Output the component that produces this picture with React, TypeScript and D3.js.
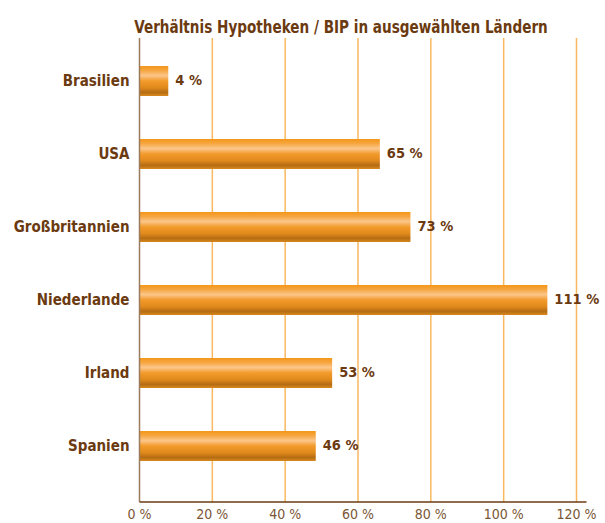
import React from "react";
import * as d3 from "d3";

// bar lengths as drawn in the picture, labels as printed
const countries = ["Brasilien", "USA", "Großbritannien", "Niederlande", "Irland", "Spanien"];
const barValues = [7.9, 66, 74.4, 112, 52.9, 48.4];
const valueLabels = ["4 %", "65 %", "73 %", "111 %", "53 %", "46 %"];
const ticks = [0, 20, 40, 60, 80, 100, 120];

const title = "Verhältnis Hypotheken / BIP in ausgewählten Ländern";
const font = "'Liberation Sans Narrow', 'DejaVu Sans Condensed', sans-serif";
const brown = "#6b3a10";

const W = 605;
const H = 523;

const App = () => {
  const x = d3.scaleLinear().domain([0, 120]).range([139.5, 576.5]);
  const y = d3.scalePoint<string>().domain(countries).range([81, 446]);
  const barH = 30;
  const top = 38;
  const bottom = 502;

  return (
    <svg width={W} height={H} style={{ position: "absolute", left: 0, top: 0 }}>
      <defs>
        <linearGradient id="barGrad" x1="0" y1="0" x2="0" y2="1">
          <stop offset="0%" stopColor="#f4961a" />
          <stop offset="15%" stopColor="#f6a640" />
          <stop offset="32%" stopColor="#fcc68a" />
          <stop offset="50%" stopColor="#f29a2a" />
          <stop offset="72%" stopColor="#e18a1c" />
          <stop offset="88%" stopColor="#b56c14" />
          <stop offset="100%" stopColor="#d8881c" />
        </linearGradient>
      </defs>
      <rect width={W} height={H} fill="#fff" />
      {/* condensed look: squeeze the title horizontally */}
      <text
        transform="translate(341,33) scale(0.84,1)"
        textAnchor="middle"
        fontFamily={font}
        fontWeight="bold"
        fontSize={18}
        fill={brown}
      >
        {title}
      </text>

      {ticks.slice(1).map((t) => (
        <line key={t} x1={x(t)} x2={x(t)} y1={top} y2={bottom} stroke="#f8b860" strokeWidth={1.5} />
      ))}

      {countries.map((c, i) => {
        const cy = y(c)!;
        return (
          <g key={c}>
            <rect x={x(0)} y={cy - barH / 2} width={x(barValues[i]) - x(0)} height={barH} fill="url(#barGrad)" />
            <text
              x={x(0) - 10}
              y={cy}
              dy="0.35em"
              textAnchor="end"
              fontFamily={font}
              fontWeight="bold"
              fontSize={15}
              fill={brown}
            >
              {c}
            </text>
            <text
              x={x(barValues[i]) + 7}
              y={cy}
              dy="0.3em"
              fontFamily={font}
              fontWeight="bold"
              fontSize={14.5}
              fill={brown}
            >
              {valueLabels[i]}
            </text>
          </g>
        );
      })}

      <line x1={x(0)} x2={x(0)} y1={top} y2={bottom} stroke="#9c7b5c" strokeWidth={1.5} />
      <line x1={x(0)} x2={x(120) + 10} y1={bottom} y2={bottom} stroke={brown} strokeWidth={1.5} />

      {ticks.map((t) => (
        <text key={t} x={x(t)} y={519} textAnchor="middle" fontFamily={font} fontSize={14} fill="#7a5634">
          {t} %
        </text>
      ))}
    </svg>
  );
};

export default App;
